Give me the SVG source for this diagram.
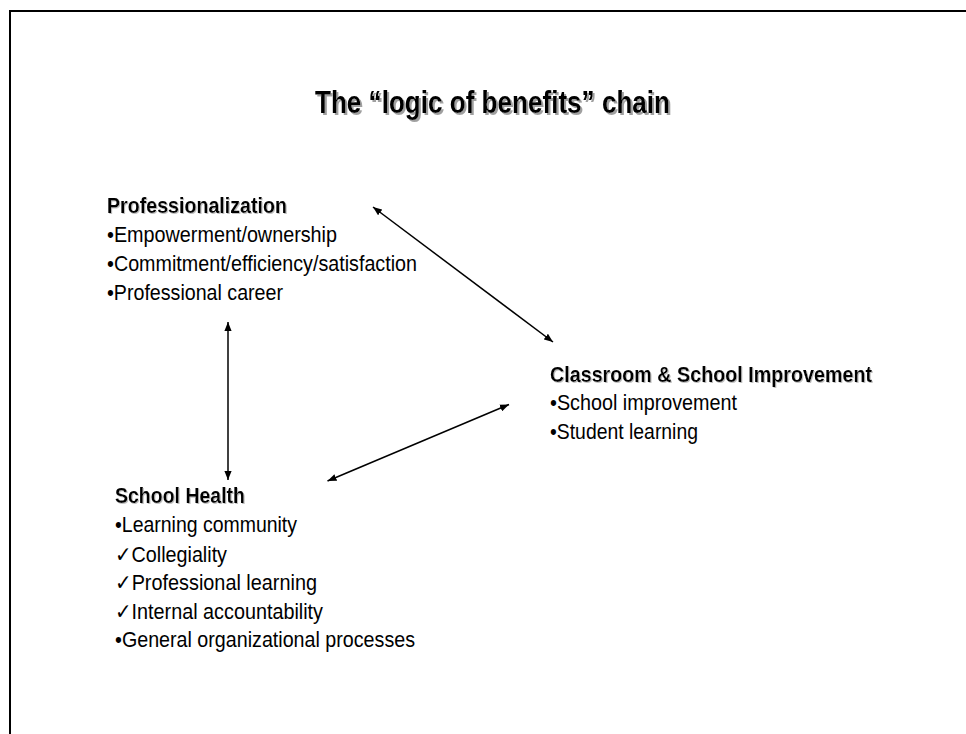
<svg xmlns="http://www.w3.org/2000/svg" width="966" height="734" viewBox="0 0 966 734">
<defs>
<style>
text{font-family:"Liberation Sans",Arial,"DejaVu Sans",sans-serif;fill:#000}
.t{font-size:31px;font-weight:bold;filter:url(#shT)}
.h{font-size:22px;font-weight:bold;filter:url(#shH)}
.b{font-size:22px}
.ck{font-weight:bold}
.c{stroke:#000;stroke-width:1.5;fill:none;marker-start:url(#ah);marker-end:url(#ah)}
</style>
<filter id="shT" x="-5%" y="-20%" width="110%" height="150%">
<feOffset in="SourceAlpha" dx="2" dy="2" result="o"/>
<feFlood flood-color="#a0a0a0"/>
<feComposite in2="o" operator="in" result="s"/>
<feMerge><feMergeNode in="s"/><feMergeNode in="SourceGraphic"/></feMerge>
</filter>
<filter id="shH" x="-5%" y="-20%" width="110%" height="150%">
<feOffset in="SourceAlpha" dx="1" dy="1" result="o"/>
<feFlood flood-color="#c0c0c0"/>
<feComposite in2="o" operator="in" result="s"/>
<feMerge><feMergeNode in="s"/><feMergeNode in="SourceGraphic"/></feMerge>
</filter>
<marker id="ah" viewBox="0 0 10 8" refX="10" refY="4" markerWidth="9" markerHeight="7.5" markerUnits="userSpaceOnUse" orient="auto-start-reverse">
<path d="M0,0 L10,4 L0,8 z" fill="#000"/>
</marker>
</defs>
<rect width="966" height="734" fill="#fff"/>
<path d="M10,734 V11 H966" fill="none" stroke="#000" stroke-width="2"/>
<g id="title">
<text class="t" x="315" y="113" textLength="355" lengthAdjust="spacingAndGlyphs">The “logic of benefits” chain</text>
</g>
<g id="professionalization">
<text class="h" x="107" y="213" textLength="180" lengthAdjust="spacingAndGlyphs">Professionalization</text>
<text class="b" x="107" y="242" textLength="230" lengthAdjust="spacingAndGlyphs">•Empowerment/ownership</text>
<text class="b" x="107" y="271" textLength="310" lengthAdjust="spacingAndGlyphs">•Commitment/efficiency/satisfaction</text>
<text class="b" x="107" y="299.5" textLength="176" lengthAdjust="spacingAndGlyphs">•Professional career</text>
</g>
<g id="classroom">
<text class="h" x="550" y="382" textLength="322" lengthAdjust="spacingAndGlyphs">Classroom &amp; School Improvement</text>
<text class="b" x="550" y="410" textLength="187" lengthAdjust="spacingAndGlyphs">•School improvement</text>
<text class="b" x="550" y="438.5" textLength="148" lengthAdjust="spacingAndGlyphs">•Student learning</text>
</g>
<g id="schoolhealth">
<text class="h" x="115" y="503" textLength="130" lengthAdjust="spacingAndGlyphs">School Health</text>
<text class="b" x="115" y="532" textLength="182" lengthAdjust="spacingAndGlyphs">•Learning community</text>
<text class="b" x="115" y="561.5" textLength="112" lengthAdjust="spacingAndGlyphs"><tspan class="ck">✓</tspan>Collegiality</text>
<text class="b" x="115" y="590" textLength="202" lengthAdjust="spacingAndGlyphs"><tspan class="ck">✓</tspan>Professional learning</text>
<text class="b" x="115" y="618.5" textLength="208" lengthAdjust="spacingAndGlyphs"><tspan class="ck">✓</tspan>Internal accountability</text>
<text class="b" x="115" y="647" textLength="300" lengthAdjust="spacingAndGlyphs">•General organizational processes</text>
</g>
<g id="connectors">
<line class="c" x1="373" y1="207" x2="553" y2="342"/>
<line class="c" x1="228" y1="322" x2="228" y2="480"/>
<line class="c" x1="509" y1="404.5" x2="327.5" y2="481"/>
</g>
</svg>
